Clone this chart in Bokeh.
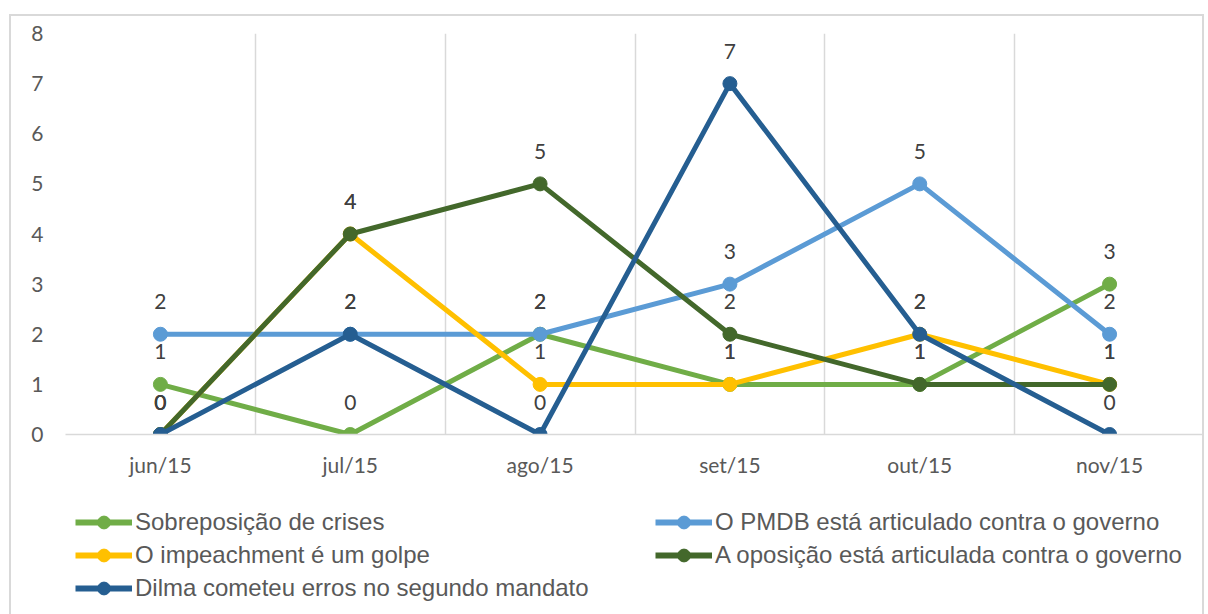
from bokeh.plotting import figure
from bokeh.models import (ColumnDataSource, FactorRange, Range1d, FixedTicker,
                          LabelSet, Legend, LegendItem, Spacer)
from bokeh.core.properties import value
from bokeh.layouts import column, row
from bokeh.embed import file_html
from bokeh.resources import INLINE

# ---- data ----
months = ["jun/15", "jul/15", "ago/15", "set/15", "out/15", "nov/15"]
sobreposicao = [1, 0, 2, 1, 1, 3]
pmdb = [2, 2, 2, 3, 5, 2]
impeachment = [0, 4, 1, 1, 2, 1]
oposicao = [0, 4, 5, 2, 1, 1]
dilma = [0, 2, 0, 7, 2, 0]
y_ticks = [0, 1, 2, 3, 4, 5, 6, 7, 8]

series = [
    ("Sobreposição de crises", sobreposicao, "#70AD47"),
    ("O PMDB está articulado contra o governo", pmdb, "#5B9BD5"),
    ("O impeachment é um golpe", impeachment, "#FFC000"),
    ("A oposição está articulada contra o governo", oposicao, "#43682B"),
    ("Dilma cometeu erros no segundo mandato", dilma, "#255E91"),
]

BORDER = "#d9d9d9"
NAN = float("nan")

p = figure(x_range=FactorRange(*months, range_padding=0),
           y_range=Range1d(0, 8),
           width=1195, height=476,
           output_backend="svg", toolbar_location=None,
           min_border_left=56, min_border_top=19,
           min_border_right=0, min_border_bottom=56)
p.border_fill_color = None
p.background_fill_color = None
p.outline_line_color = None
p.styles = {"box-shadow": f"inset 2px 2px 0 {BORDER}, inset -2px 0 0 {BORDER}"}

# grid: vertical lines at category boundaries
p.xgrid.ticker = FixedTicker(ticks=[0, 1, 2, 3, 4, 5, 6])
p.xgrid.grid_line_color = BORDER
p.xgrid.grid_line_width = 1.5
p.ygrid.grid_line_color = None

p.xaxis.axis_line_color = BORDER
p.xaxis.axis_line_width = 1.5
p.xaxis.major_tick_line_color = None
p.xaxis.minor_tick_line_color = None
p.xaxis.major_label_standoff = 11
p.xaxis.major_label_text_font = "Lato"
p.xaxis.major_label_text_font_size = "21px"
p.xaxis.major_label_text_color = "#595959"

p.yaxis.ticker = FixedTicker(ticks=y_ticks)
p.yaxis.axis_line_color = None
p.yaxis.major_tick_line_color = None
p.yaxis.minor_tick_line_color = None
p.yaxis.major_label_standoff = 16
p.yaxis.major_label_text_font = "Lato"
p.yaxis.major_label_text_font_size = "21px"
p.yaxis.major_label_text_color = "#595959"

# legend strip below the chart
q = figure(x_range=Range1d(0, 1), y_range=Range1d(0, 1),
           width=1195, height=124, output_backend="svg", toolbar_location=None,
           x_axis_location=None, y_axis_location=None,
           min_border=0)
q.border_fill_color = None
q.background_fill_color = None
q.outline_line_color = None
q.xgrid.grid_line_color = None
q.ygrid.grid_line_color = None
q.styles = {"box-shadow": f"inset 2px 0 0 {BORDER}, inset -2px 0 0 {BORDER}"}

items = {}
for name, vals, col in series:
    src = ColumnDataSource(dict(x=months, y=vals, t=[str(v) for v in vals]))
    p.line("x", "y", source=src, line_width=5, line_color=col)
    p.scatter("x", "y", source=src, size=14, fill_color=col, line_color=col)
    labels = LabelSet(x="x", y="y", text="t", source=src, y_offset=25,
                      text_align="center", text_baseline="alphabetic",
                      text_font=value("Lato"), text_font_size="21px",
                      text_color="#404040")
    p.add_layout(labels)
    # legend proxies with the same styling (no visible data)
    ql = q.line(x=[NAN], y=[NAN], line_width=6, line_color=col)
    qs = q.scatter(x=[NAN], y=[NAN], size=14, fill_color=col, line_color=col)
    items[name] = LegendItem(label=name, renderers=[ql, qs])

def make_legend(names, loc):
    lg = Legend(items=[items[n] for n in names], location=loc,
                glyph_width=57, glyph_height=32, label_height=27,
                label_standoff=3, spacing=1, padding=0, margin=0,
                label_text_font="Liberation Sans", label_text_font_size="24px",
                label_text_color="#595959",
                border_line_color=None, background_fill_alpha=0)
    q.add_layout(lg, "center")

make_legend(["Sobreposição de crises", "O impeachment é um golpe",
             "Dilma cometeu erros no segundo mandato"], (10, 10))
make_legend(["O PMDB está articulado contra o governo",
             "A oposição está articulada contra o governo"], (590, 43))

layout = column(Spacer(height=14),
                row(Spacer(width=9), column(p, q, spacing=0), spacing=0),
                spacing=0)
open("out.html", "w").write(file_html(layout, INLINE))
